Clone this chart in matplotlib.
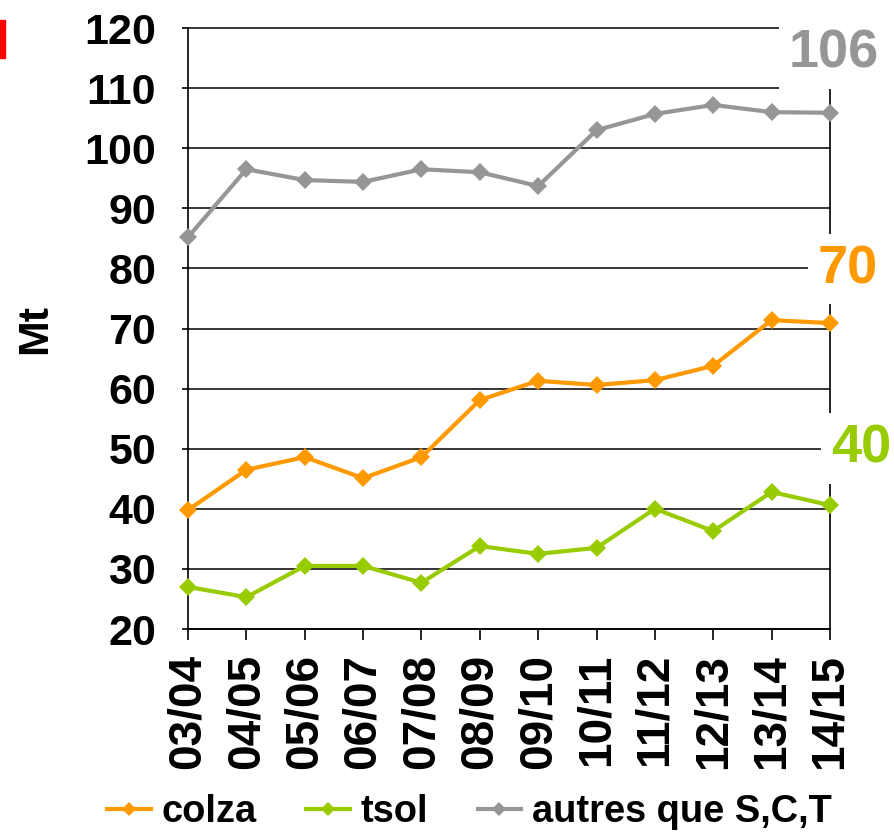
import matplotlib
matplotlib.use("Agg")
import matplotlib.pyplot as plt
from matplotlib.patches import Rectangle

categories = ["03/04", "04/05", "05/06", "06/07", "07/08", "08/09",
              "09/10", "10/11", "11/12", "12/13", "13/14", "14/15"]
colza = [39.8, 46.5, 48.6, 45.1, 48.6, 58.1, 61.3, 60.6, 61.4, 63.8, 71.4, 70.9]
tsol = [27.0, 25.3, 30.5, 30.5, 27.7, 33.8, 32.5, 33.5, 40.0, 36.3, 42.8, 40.6]
autres = [85.2, 96.5, 94.7, 94.4, 96.5, 96.0, 93.7, 103.0, 105.7, 107.2, 106.0, 105.9]
series_names = ["colza", "tsol", "autres que S,C,T"]
end_labels = ["70", "40", "106"]
yticks = [20, 30, 40, 50, 60, 70, 80, 90, 100, 110, 120]

colors = ["#FF9900", "#99CC00", "#969696"]

plt.rcParams['font.family'] = ['Liberation Sans', 'DejaVu Sans']
plt.rcParams['font.weight'] = 'bold'

fig = plt.figure(figsize=(8.94, 8.34), dpi=100)
ax = fig.add_axes([0.2103, 0.2458, 0.7181, 0.7206])

x = list(range(len(categories)))
for vals, name, c in zip([colza, tsol, autres], series_names, colors):
    ax.plot(x, vals, color=c, lw=3.0, marker='D', markersize=9.5,
            markeredgewidth=0, label=name, zorder=4, clip_on=False)

ax.set_xlim(0, len(categories) - 1)
ax.set_ylim(20, 120)
ax.set_yticks(yticks)
ax.set_yticklabels([str(v) for v in yticks], fontsize=31, fontweight='bold')
ax.set_xticks(x)
ax.set_xticklabels(categories, rotation=90, fontsize=33, fontweight='bold')
ax.tick_params(axis='y', direction='out', length=4, width=1.2, pad=19)
ax.tick_params(axis='x', direction='out', length=8, width=1.2, pad=10)
ax.grid(axis='y', color='black', lw=1.1)
ax.set_axisbelow(True)
for gl in ax.get_ygridlines():
    gl.set_clip_on(False)
ax.spines['top'].set_visible(False)
for s in ['left', 'right', 'bottom']:
    ax.spines[s].set_linewidth(1.2)
    ax.spines[s].set_color('black')

ax.set_ylabel("Mt", fontsize=31, fontweight='bold', labelpad=21)

last = len(categories) - 1
label_pos = [(last + 0.31, 79.9), (last + 0.53, 50.0), (last + 0.07, 115.7)]
for txt, (px, py), c in zip(end_labels, label_pos, colors):
    ax.text(px, py, txt, color=c, fontsize=39, fontweight='bold',
            ha='center', va='center', zorder=3, clip_on=False,
            bbox=dict(facecolor='white', edgecolor='none', pad=7.5))

fig.patches.append(Rectangle((0, 1 - 58 / 834), 5 / 894, 38 / 834,
                             transform=fig.transFigure, color='red'))

leg = fig.legend(loc='center', bbox_to_anchor=(0.525, 0.026), ncol=3,
                 frameon=False, fontsize=27.4, handlelength=1.15,
                 handletextpad=0.28, columnspacing=1.3, markerscale=0.75)

fig.savefig("out.png", dpi=100)
